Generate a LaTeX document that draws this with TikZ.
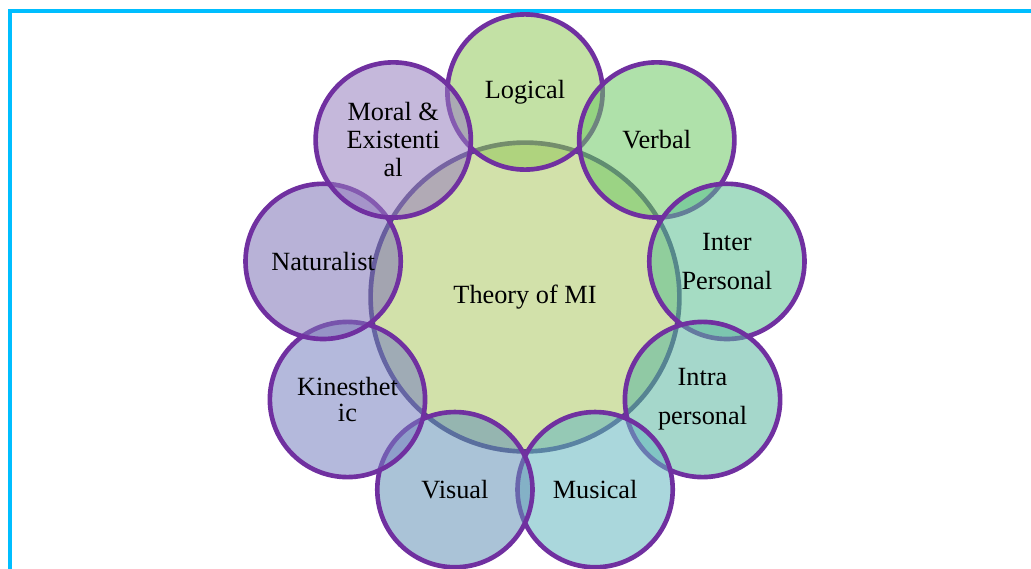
\documentclass[tikz,border=0pt]{standalone}
\usepackage{fontspec}
\setmainfont{Liberation Serif}
\usetikzlibrary{positioning}

\definecolor{miblue}{RGB}{0,190,255}
\definecolor{mipurple}{RGB}{112,48,160}
\definecolor{micore}{RGB}{80,70,130}
\definecolor{cCore}{RGB}{173,200,100}
\definecolor{cLogical}{RGB}{146,200,91}
\definecolor{cVerbal}{RGB}{110,200,100}
\definecolor{cInter}{RGB}{91,191,146}
\definecolor{cIntra}{RGB}{91,182,160}
\definecolor{cMusical}{RGB}{100,182,191}
\definecolor{cVisual}{RGB}{100,146,182}
\definecolor{cKin}{RGB}{119,128,191}
\definecolor{cNat}{RGB}{125,115,182}
\definecolor{cMoral}{RGB}{150,125,190}

\newcommand{\mifont}{\fontsize{18.7}{19.9}\selectfont}

\tikzset{%
  petal/.style={draw=mipurple, line width=3.3pt, circle, minimum size=3.88cm, inner sep=0pt, fill opacity=0.55, draw opacity=1, text opacity=1, align=center, font=\mifont},
  core/.style={petal, minimum size=7.72cm, draw=micore},
  frame/.style={draw=miblue, line width=0.08cm},
}

\begin{document}
\begin{tikzpicture}
\useasboundingbox (0,0) rectangle (25.775,-14.2);
\clip (0,0) rectangle (25.775,-14.2);
\draw[frame] (0.25,-0.275) rectangle (27,-15);
\node[core, fill=cCore] (mi) at (13.125,-7.425) {Theory of MI};
\node[petal, fill=cLogical] (logical) at ([shift={(90:5.125)}]mi.center) {Logical};
\node[petal, fill=cVerbal] (verbal) at ([shift={(50:5.125)}]mi.center) {Verbal};
\node[petal, fill=cInter] (inter) at ([shift={(10:5.125)}]mi.center) {Inter\\[8pt]Personal};
\node[petal, fill=cIntra] (intra) at ([shift={(-30:5.125)}]mi.center) {Intra\\[8pt]personal};
\node[petal, fill=cMusical] (musical) at ([shift={(-70:5.125)}]mi.center) {Musical};
\node[petal, fill=cVisual] (visual) at ([shift={(-110:5.125)}]mi.center) {Visual};
\node[petal, fill=cKin] (kinesthetic) at ([shift={(-150:5.125)}]mi.center) {Kinesthet\\[-1pt]ic};
\node[petal, fill=cNat] (naturalist) at ([shift={(170:5.125)}]mi.center) {Naturalist};
\node[petal, fill=cMoral] (moral) at ([shift={(130:5.125)}]mi.center) {Moral \&\\Existenti\\al};
\end{tikzpicture}
\end{document}
